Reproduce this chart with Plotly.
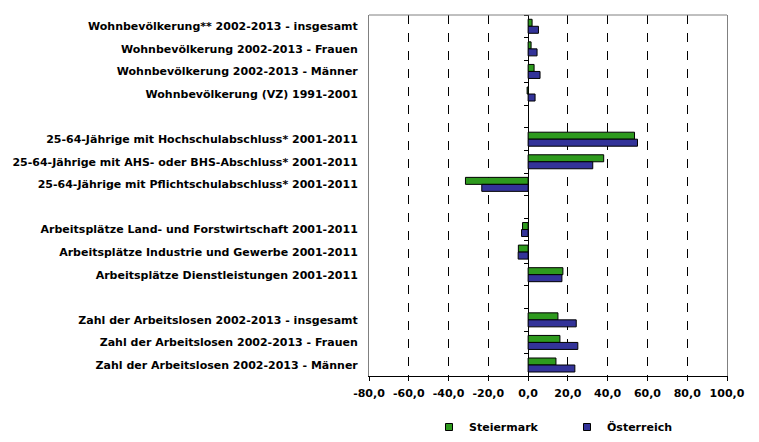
import plotly.graph_objects as go

categories = [
    "Wohnbevölkerung** 2002-2013 - insgesamt",
    "Wohnbevölkerung 2002-2013 - Frauen",
    "Wohnbevölkerung 2002-2013 - Männer",
    "Wohnbevölkerung (VZ) 1991-2001",
    " ",
    "25-64-Jährige mit Hochschulabschluss* 2001-2011",
    "25-64-Jährige mit AHS- oder BHS-Abschluss* 2001-2011",
    "25-64-Jährige mit Pflichtschulabschluss* 2001-2011",
    "  ",
    "Arbeitsplätze Land- und Forstwirtschaft 2001-2011",
    "Arbeitsplätze Industrie und Gewerbe 2001-2011",
    "Arbeitsplätze Dienstleistungen 2001-2011",
    "   ",
    "Zahl der Arbeitslosen 2002-2013 - insgesamt",
    "Zahl der Arbeitslosen 2002-2013 - Frauen",
    "Zahl der Arbeitslosen 2002-2013 - Männer",
]

steiermark = [2.0, 1.5, 3.0, -0.5, None, 53.5, 38.0, -31.5, None,
              -2.8, -4.9, 17.5, None, 15.0, 16.0, 14.0]
oesterreich = [5.2, 4.5, 6.0, 3.5, None, 55.0, 32.5, -23.3, None,
               -3.3, -5.0, 17.0, None, 24.2, 25.0, 23.5]

series_names = ["Steiermark", "Österreich"]
series_colors = ["#2E9A1E", "#333399"]

x_ticks = [-80, -60, -40, -20, 0, 20, 40, 60, 80, 100]
x_tick_text = [f"{v:.1f}".replace(".", ",") for v in x_ticks]
x_min, x_max = -80, 100

FONT = "DejaVu Sans"
FS = 11

fig = go.Figure()
for name, vals, col in zip(series_names, [steiermark, oesterreich], series_colors):
    fig.add_trace(go.Bar(
        name=name, x=vals, y=categories, orientation="h",
        marker=dict(color=col, line=dict(color="black", width=1)),
        legendgroup=name, showlegend=False,
    ))
# legend proxies (small square keys)
for name, col in zip(series_names, series_colors):
    fig.add_trace(go.Scatter(
        x=[None], y=[None], mode="markers", name=name, legendgroup=name,
        marker=dict(symbol="square", size=7, color=col,
                    line=dict(color="black", width=1)),
    ))
# invisible helper trace for the zero-axis boundary ticks
fig.add_trace(go.Scatter(
    x=[0] * len(categories), y=categories, yaxis="y2", mode="markers",
    marker=dict(opacity=0), showlegend=False, hoverinfo="skip",
))

n = len(categories)
fig.update_layout(
    width=759, height=442,
    margin=dict(l=364, r=32, t=15, b=60),
    paper_bgcolor="white", plot_bgcolor="white",
    barmode="group", bargap=0.38, bargroupgap=0,
    font=dict(family=FONT, size=FS, color="black", weight="bold"),
    xaxis=dict(
        range=[x_min, x_max], tickvals=x_ticks, ticktext=x_tick_text,
        showgrid=True, gridcolor="black", griddash="dash", gridwidth=1,
        zeroline=True, zerolinecolor="black", zerolinewidth=1,
        showline=True, linecolor="black", linewidth=1,
        ticks="outside", ticklen=4, tickcolor="black",
        ticklabelstandoff=3,
        tickfont=dict(family=FONT, size=FS, weight="bold"),
    ),
    yaxis=dict(
        type="category", categoryarray=categories, categoryorder="array",
        range=[n - 0.5, -0.5], showgrid=False, zeroline=False,
        showline=True, linecolor="#808080", linewidth=1, mirror=True,
        ticks="", ticklabelstandoff=8,
        tickfont=dict(family=FONT, size=FS, weight="bold"),
    ),
    yaxis2=dict(
        type="category", categoryarray=categories, categoryorder="array",
        range=[n - 0.5, -0.5], overlaying="y", anchor="free",
        position=(0 - x_min) / (x_max - x_min),
        showgrid=False, zeroline=False, showline=False,
        showticklabels=False, ticks="outside", tickson="boundaries",
        ticklen=4, tickcolor="black",
    ),
    legend=dict(
        orientation="h", xref="container", yref="container",
        x=(456 - 27) / 759, y=1 - 427 / 442, xanchor="left", yanchor="middle",
        font=dict(family=FONT, size=FS, weight="bold"),
        entrywidth=93, itemwidth=30, bgcolor="rgba(0,0,0,0)",
    ),
    shapes=[dict(
        type="line", xref="x domain", yref="y domain",
        x0=0, x1=1, y0=1, y1=1, line=dict(color="#808080", width=1),
    )],
)

fig.write_html("out.html")
